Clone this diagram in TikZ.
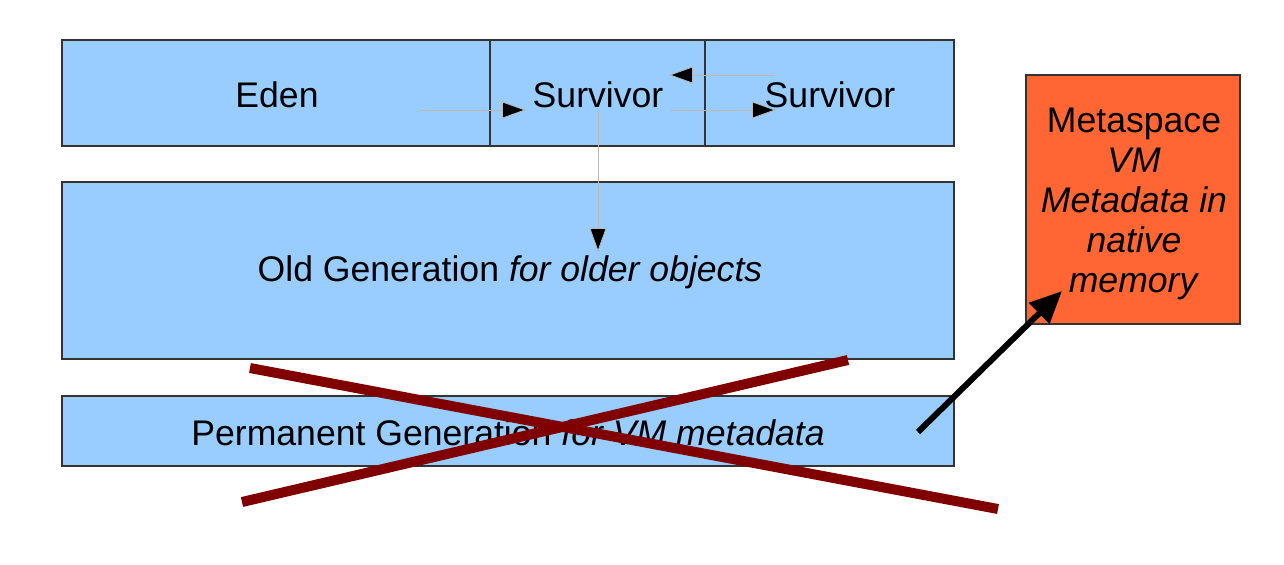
\documentclass[tikz,border=0pt]{standalone}
\usepackage{fontspec}
\setmainfont{Liberation Sans}
\usetikzlibrary{arrows.meta}
\definecolor{heapblue}{HTML}{99CCFF}
\definecolor{metaorange}{HTML}{FF6633}
\definecolor{crossred}{HTML}{800000}
\definecolor{edgegray}{HTML}{333333}
\begin{document}
\begin{tikzpicture}[x=0.5pt,y=-0.5pt,
  lbl/.style={font=\fontsize{17.8}{20}\selectfont},
  box/.style={draw=edgegray,line width=0.6pt,fill=heapblue,inner sep=0pt},
  metabox/.style={draw=edgegray,line width=0.6pt,fill=metaorange,inner sep=0pt},
  thin/.style={draw=gray!55,line width=0.4pt,-{Triangle[length=12pt,width=8.5pt,fill=black]}},
  crossline/.style={draw=crossred,line width=5pt},
  bigarrow/.style={draw=black,line width=3pt,-{Triangle[length=16pt,width=14pt]}}]
\useasboundingbox (0,0) rectangle (1284,564);
% top row
\node[box,minimum width=214pt,minimum height=53pt] (eden) at (276,93) {};
\node[box,minimum width=107.5pt,minimum height=53pt] (surv1) at (597.5,93) {};
\node[box,minimum width=124.5pt,minimum height=53pt] (surv2) at (829.5,93) {};
\node[lbl] (edent) at (277,95) {Eden};
\node[lbl] (surv1t) at (598,95) {Survivor};
% old gen
\node[box,minimum width=446pt,minimum height=88.5pt] (old) at (508,270.5) {};
\node[lbl] (oldt) at (510,272) {Old Generation \textit{for older objects}};
% perm gen
\node[box,minimum width=446pt,minimum height=35pt] (perm) at (508,431) {};
\node[lbl] (permt) at (508,433) {Permanent Generation \textit{for VM metadata}};
% metaspace
\node[metabox,minimum width=107pt,minimum height=124.5pt] (meta) at (1133,199.5) {};
\node[lbl,align=center] (metat) at (1134,204) {Metaspace\\\textit{VM}\\\textit{Metadata in}\\\textit{native}\\\textit{memory}};
% thin arrows
\coordinate (a1s) at (420,110);
\coordinate (a1e) at (526,110);
\coordinate (a2s) at (670,110);
\coordinate (a2e) at (776,110);
\coordinate (a3s) at (775,75);
\coordinate (a3e) at (669,75);
\coordinate (a4s) at (598,112);
\coordinate (a4e) at (598,252);
\draw[thin] (a1s) -- (a1e);
\draw[thin] (a2s) -- (a2e);
\draw[thin] (a3s) -- (a3e);
\draw[thin] (a4s) -- (a4e);
\node[lbl] (surv2t) at (830,95) {Survivor};
% cross
\coordinate (c1a) at (250,368);
\coordinate (c1b) at (998,509);
\coordinate (c2a) at (242,502);
\coordinate (c2b) at (848,360);
\draw[crossline] (c1a) -- (c1b);
\draw[crossline] (c2a) -- (c2b);
% big arrow
\coordinate (bs) at (918,432);
\coordinate (be) at (1062,291);
\draw[bigarrow] (bs) -- (be);
\end{tikzpicture}
\end{document}
